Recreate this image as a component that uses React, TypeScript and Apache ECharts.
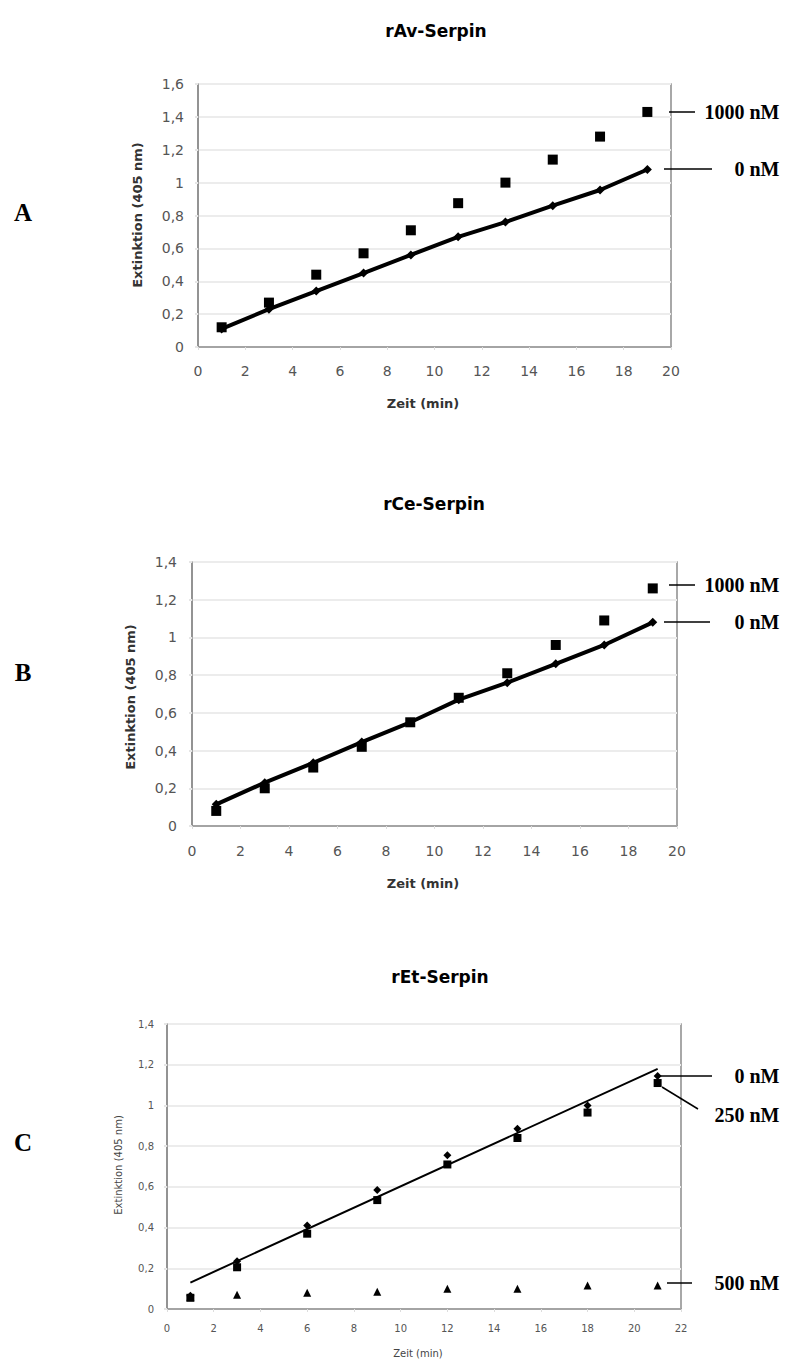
import React, { useEffect, useRef } from "react";
import * as echarts from "echarts";

// ---- Data ----
const timeA = [1, 3, 5, 7, 9, 11, 13, 15, 17, 19];
const av0nM = [0.11, 0.23, 0.34, 0.45, 0.56, 0.67, 0.76, 0.86, 0.955, 1.08];
const av1000nM = [0.12, 0.27, 0.44, 0.57, 0.71, 0.875, 1.0, 1.14, 1.28, 1.43];

const timeB = [1, 3, 5, 7, 9, 11, 13, 15, 17, 19];
const ce0nM = [0.115, 0.23, 0.335, 0.445, 0.55, 0.67, 0.76, 0.86, 0.96, 1.08];
const ce1000nM = [0.08, 0.2, 0.31, 0.42, 0.55, 0.68, 0.81, 0.96, 1.09, 1.26];

const timeC = [1, 3, 6, 9, 12, 15, 18, 21];
const et0nM = [0.065, 0.235, 0.41, 0.585, 0.755, 0.885, 1.0, 1.145];
const et250nM = [0.055, 0.205, 0.37, 0.535, 0.71, 0.84, 0.965, 1.11];
const et500nM = [0.06, 0.07, 0.08, 0.085, 0.1, 0.1, 0.115, 0.115];
const etTrendX = [1, 21];
const etTrendY = [0.13, 1.18];

const titles = ["rAv-Serpin", "rCe-Serpin", "rEt-Serpin"];
const panelLabels = ["A", "B", "C"];
const yName = "Extinktion (405 nm)";
const xName = "Zeit (min)";

const pairs = (xs: number[], ys: number[]) => xs.map((x, i) => [x, ys[i]]);
const fmt = (v: number) => String(+v.toFixed(1)).replace(".", ",");

export default function App() {
  const ref = useRef<HTMLDivElement>(null);
  useEffect(() => {
    if (!ref.current) return;
    const chart = echarts.init(ref.current, undefined, { renderer: "svg" });
    const sans = '"DejaVu Sans", Verdana, sans-serif';
    const serif = '"Liberation Serif", "Times New Roman", serif';
    const gridBase = { show: true, borderColor: "#8c8c8c", borderWidth: 1.5, containLabel: false };
    const mkX = (gi: number, max: number, fs: number, margin: number) => ({
      type: "value", gridIndex: gi, min: 0, max, interval: 2,
      axisLine: { show: true, lineStyle: { color: "#8c8c8c", width: 1.5 } },
      axisTick: { show: true, length: 3, lineStyle: { color: "#dddddd" } },
      splitLine: { show: false },
      axisLabel: { fontFamily: sans, fontSize: fs, color: "#555", margin },
    });
    const mkY = (gi: number, max: number, fs: number, margin: number) => ({
      type: "value", gridIndex: gi, min: 0, max, interval: 0.2,
      axisLine: { show: true, lineStyle: { color: "#8c8c8c", width: 1.5 } },
      axisTick: { show: true, length: 3, lineStyle: { color: "#e6e6e6", width: 2 } },
      splitLine: { show: true, lineStyle: { color: "#ececec", width: 2 } },
      axisLabel: { fontFamily: sans, fontSize: fs, color: "#555", margin, formatter: fmt },
    });
    const txt = (text: string, x: number, y: number, font: string, extra: any = {}) => ({
      type: "text", x, y, silent: true, ...extra,
      style: { text, font, fill: extra.fill || "#000", textAlign: extra.align || "center", textVerticalAlign: "middle", align: extra.align || "center", verticalAlign: "middle" },
    });
    const ln = (x1: number, y1: number, x2: number, y2: number) => ({
      type: "line", silent: true, shape: { x1, y1, x2, y2 }, style: { stroke: "#000", lineWidth: 1.5 },
    });
    const black = { color: "#000", opacity: 1 };
    const option: any = {
      animation: false,
      backgroundColor: "#fff",
      grid: [
        { ...gridBase, left: 198, top: 84, width: 473, height: 263 },
        { ...gridBase, left: 192, top: 562, width: 485, height: 264 },
        { ...gridBase, left: 167, top: 1024, width: 514, height: 285 },
      ],
      xAxis: [mkX(0, 20, 14, 17), mkX(1, 20, 14, 18), mkX(2, 22, 10, 14)],
      yAxis: [mkY(0, 1.6, 14, 14), mkY(1, 1.4, 14, 15), mkY(2, 1.4, 10, 13)],
      series: [
        { name: "1000 nM", type: "scatter", xAxisIndex: 0, yAxisIndex: 0, symbol: "rect", symbolSize: 10, itemStyle: black, data: pairs(timeA, av1000nM) },
        { name: "0 nM", type: "line", xAxisIndex: 0, yAxisIndex: 0, symbol: "diamond", symbolSize: 9, showAllSymbol: true, itemStyle: black, lineStyle: { color: "#000", width: 4 }, data: pairs(timeA, av0nM) },
        { name: "1000 nM", type: "scatter", xAxisIndex: 1, yAxisIndex: 1, symbol: "rect", symbolSize: 10, itemStyle: black, data: pairs(timeB, ce1000nM) },
        { name: "0 nM", type: "line", xAxisIndex: 1, yAxisIndex: 1, symbol: "diamond", symbolSize: 9, showAllSymbol: true, itemStyle: black, lineStyle: { color: "#000", width: 4 }, data: pairs(timeB, ce0nM) },
        { name: "Trend", type: "line", xAxisIndex: 2, yAxisIndex: 2, symbol: "none", lineStyle: { color: "#000", width: 2 }, data: pairs(etTrendX, etTrendY) },
        { name: "250 nM", type: "scatter", xAxisIndex: 2, yAxisIndex: 2, symbol: "rect", symbolSize: 8, itemStyle: black, data: pairs(timeC, et250nM) },
        { name: "0 nM", type: "scatter", xAxisIndex: 2, yAxisIndex: 2, symbol: "diamond", symbolSize: 8, itemStyle: black, data: pairs(timeC, et0nM) },
        { name: "500 nM", type: "scatter", xAxisIndex: 2, yAxisIndex: 2, symbol: "triangle", symbolSize: 8, itemStyle: black, data: pairs(timeC, et500nM) },
      ],
      graphic: [
        // titles
        txt(titles[0], 436, 31, `bold 17px ${sans}`),
        txt(titles[1], 434, 504, `bold 17px ${sans}`),
        txt(titles[2], 440, 977, `bold 17px ${sans}`),
        // panel labels
        txt(panelLabels[0], 23, 212, `bold 25px ${serif}`),
        txt(panelLabels[1], 23, 672, `bold 25px ${serif}`),
        txt(panelLabels[2], 23, 1142, `bold 25px ${serif}`),
        // axis names
        txt(yName, 137, 215, `bold 13px ${sans}`, { rotation: Math.PI / 2, fill: "#333" }),
        txt(xName, 423, 403, `bold 13px ${sans}`, { fill: "#333" }),
        txt(yName, 130, 697, `bold 13px ${sans}`, { rotation: Math.PI / 2, fill: "#333" }),
        txt(xName, 423, 883, `bold 13px ${sans}`, { fill: "#333" }),
        txt(yName, 118, 1165, `10px ${sans}`, { rotation: Math.PI / 2, fill: "#444" }),
        txt(xName, 418, 1353, `10px ${sans}`, { fill: "#444" }),
        // annotations A
        ln(669, 112, 695, 112),
        txt("1000 nM", 742, 112, `bold 20px ${serif}`),
        ln(664, 169, 712, 169),
        txt("0 nM", 757, 169, `bold 20px ${serif}`),
        // annotations B
        ln(669, 585, 695, 585),
        txt("1000 nM", 742, 585, `bold 20px ${serif}`),
        ln(664, 622, 710, 622),
        txt("0 nM", 757, 622, `bold 20px ${serif}`),
        // annotations C
        ln(657, 1076, 712, 1076),
        txt("0 nM", 757, 1076, `bold 20px ${serif}`),
        ln(662, 1087, 698, 1109),
        txt("250 nM", 747, 1115, `bold 20px ${serif}`),
        ln(667, 1283, 692, 1283),
        txt("500 nM", 747, 1283, `bold 20px ${serif}`),
      ],
    };
    chart.setOption(option);
    return () => chart.dispose();
  }, []);
  return (
    <div
      ref={ref}
      style={{ position: "absolute", left: 0, top: 0, width: 789, height: 1360, background: "#fff" }}
    />
  );
}
